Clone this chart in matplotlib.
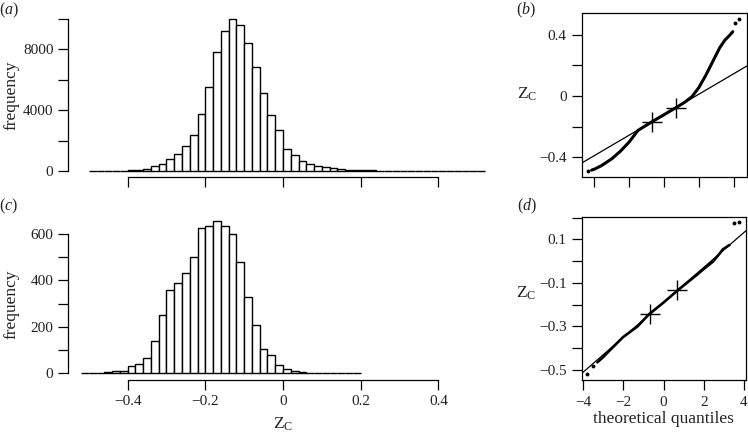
import numpy as np
import matplotlib
matplotlib.use('Agg')
import matplotlib.pyplot as plt

plt.rcParams['font.family'] = ['Liberation Serif', 'DejaVu Serif']
plt.rcParams['font.size'] = 11
plt.rcParams['mathtext.fontset'] = 'custom'
plt.rcParams['mathtext.rm'] = 'Liberation Serif'
plt.rcParams['mathtext.it'] = 'Liberation Serif:italic'
plt.rcParams['axes.linewidth'] = 0.9
plt.rcParams['text.color'] = '#222222'
plt.rcParams['xtick.labelcolor'] = '#222222'
plt.rcParams['ytick.labelcolor'] = '#222222'

# histogram (a): bins of width 0.02 starting at -0.50
bins_a_start = -0.50
counts_a = [2, 3, 5, 8, 20, 40, 90, 150, 300, 480, 790, 1120, 1620, 2390, 3770,
            5520, 7820, 9240, 10020, 9580, 8440, 6820, 5160, 3670, 2680, 1480,
            1020, 670, 450, 340, 240, 180, 130, 90, 60, 45, 35, 25, 20, 15, 12,
            10, 8, 6, 5, 4, 3, 2, 2, 1, 1]

# histogram (c): bins of width 0.02 starting at -0.52
bins_c_start = -0.52
counts_c = [1, 1, 2, 4, 11, 10, 30, 38, 65, 139, 251, 359, 391, 433, 499, 624,
            634, 656, 634, 598, 481, 330, 208, 103, 80, 36, 18, 9, 6, 3, 2, 1,
            1, 1, 1, 1]
bin_w = 0.02

hist_xticks = [-0.4, -0.2, 0, 0.2, 0.4]
hist_xlabels = ['\u22120.4', '\u22120.2', '0', '0.2', '0.4']

# normal QQ plot (b): points
qq_b_x = [-4.16, -4.0, -3.6, -3.0, -2.5, -2.0, -1.5, -0.674, 0.0, 0.674, 1.2,
          1.6, 2.0, 2.4, 2.8, 3.2, 3.5, 3.8, 3.95]
qq_b_y = [-0.484, -0.478, -0.455, -0.41, -0.36, -0.30, -0.225, -0.167, -0.122,
          -0.077, -0.040, -0.005, 0.055, 0.135, 0.225, 0.315, 0.365, 0.40, 0.42]
qq_b_out_x = [-4.35, 4.08, 4.33]
qq_b_out_y = [-0.489, 0.475, 0.503]
quart_b_y = [-0.167, -0.077]

# normal QQ plot (d)
qq_d_x = [-3.3, -3.0, -2.77, -2.02, -1.3, -0.73, 0.0, 0.73, 1.63, 2.0, 2.45,
          2.75, 2.95, 3.28]
qq_d_y = [-0.465, -0.44, -0.418, -0.349, -0.30, -0.244, -0.190, -0.132, -0.065,
          -0.036, -0.003, 0.03, 0.054, 0.074]
qq_d_out_x = [-3.82, -3.52, 3.48, 3.75]
qq_d_out_y = [-0.517, -0.482, 0.176, 0.181]
quart_d_y = [-0.243, -0.135]

quart_x = [-0.674, 0.674]

W, H = 748, 436
fig = plt.figure(figsize=(W / 100, H / 100), dpi=100)


def px_axes(left, top, right, bottom):
    # pixel box -> figure fraction
    return fig.add_axes([left / W, 1 - bottom / H, (right - left) / W, (bottom - top) / H])


tick_len = 7.2
lab_size = 12.5

# (a) histogram
ax_a = px_axes(68.3, 12, 490, 176.7)
edges_a = bins_a_start + bin_w * np.arange(len(counts_a))
ax_a.bar(edges_a, counts_a, width=bin_w, align='edge', facecolor='white',
         edgecolor='black', linewidth=1.0)
ax_a.set_xlim(-0.5527, 0.5328)
ax_a.set_ylim(-375, 10460)
ax_a.spines['top'].set_visible(False)
ax_a.spines['right'].set_visible(False)
ax_a.spines['left'].set_bounds(0, 10000)
ax_a.spines['bottom'].set_bounds(-0.4, 0.4)
ax_a.set_yticks([0, 2000, 4000, 6000, 8000, 10000])
ax_a.set_yticklabels(['0', '', '4000', '', '8000', ''])
ax_a.set_xticks(hist_xticks)
ax_a.set_xticklabels([])
ax_a.tick_params(direction='out', length=tick_len, width=0.9)

# (c) histogram
ax_c = px_axes(68.3, 215, 490, 379.5)
edges_c = bins_c_start + bin_w * np.arange(len(counts_c))
ax_c.bar(edges_c, counts_c, width=bin_w, align='edge', facecolor='white',
         edgecolor='black', linewidth=1.0)
ax_c.set_xlim(-0.5527, 0.5328)
ax_c.set_ylim(-26.7, 682)
ax_c.spines['top'].set_visible(False)
ax_c.spines['right'].set_visible(False)
ax_c.spines['left'].set_bounds(0, 600)
ax_c.spines['bottom'].set_bounds(-0.4, 0.4)
ax_c.set_yticks([0, 100, 200, 300, 400, 500, 600])
ax_c.set_yticklabels(['0', '', '200', '', '400', '', '600'])
ax_c.set_xticks(hist_xticks)
ax_c.set_xticklabels(hist_xlabels)
ax_c.tick_params(direction='out', length=tick_len, width=0.9)
ax_c.tick_params(axis='x', pad=4)

# (b) QQ plot
ax_b = px_axes(581.7, 12.7, 746.5, 176.7)
ax_b.plot(qq_b_x, qq_b_y, color='black', lw=2.2, solid_capstyle='round')
ax_b.plot(qq_b_out_x, qq_b_out_y, 'o', color='black', ms=1.8)
ax_b.axline((quart_x[0], quart_b_y[0]), (quart_x[1], quart_b_y[1]), color='black', lw=0.9)
ax_b.plot(quart_x, quart_b_y, '+', color='black', ms=15, mew=1.0)
ax_b.set_xlim(-4.73, 4.74)
ax_b.set_ylim(-0.527, 0.544)
ax_b.set_xticks([-4, -2, 0, 2, 4])
ax_b.set_xticklabels([])
ax_b.set_yticks([-0.4, -0.2, 0, 0.2, 0.4])
ax_b.set_yticklabels(['\u22120.4', '', '0', '', '0.4'])
ax_b.tick_params(direction='out', length=tick_len, width=0.9)

# (d) QQ plot
ax_d = px_axes(581.7, 217.3, 746, 380)
ax_d.plot(qq_d_x, qq_d_y, color='black', lw=1.9, solid_capstyle='round')
ax_d.plot(qq_d_out_x, qq_d_out_y, 'o', color='black', ms=1.8)
ax_d.axline((quart_x[0], quart_d_y[0]), (quart_x[1], quart_d_y[1]), color='black', lw=0.9)
ax_d.plot(quart_x, quart_d_y, '+', color='black', ms=15, mew=1.0)
ax_d.set_xlim(-4.08, 4.10)
ax_d.set_ylim(-0.546, 0.201)
ax_d.set_xticks([-4, -2, 0, 2, 4])
ax_d.set_xticklabels(['\u22124', '\u22122', '0', '2', '4'])
ax_d.set_yticks([0.2, 0.1, 0, -0.1, -0.2, -0.3, -0.4, -0.5])
ax_d.set_yticklabels(['', '0.1', '', '\u22120.1', '', '\u22120.3', '', '\u22120.5'])
ax_d.tick_params(direction='out', length=tick_len, width=0.9)
ax_d.tick_params(axis='x', pad=4)


def ftext(x, y, s, **kw):
    fig.text(x / W, 1 - y / H, s, ha='center', va='center', **kw)


ftext(9, 10.5, r'$(\mathit{a})$', fontsize=11.5)
ftext(526, 10.5, r'$(\mathit{b})$', fontsize=11.5)
ftext(9, 206, r'$(\mathit{c})$', fontsize=11.5)
ftext(527, 206, r'$(\mathit{d})$', fontsize=11.5)
ftext(12, 95, 'frequency', rotation=90, fontsize=lab_size)
ftext(12, 304, 'frequency', rotation=90, fontsize=lab_size)
ftext(527, 94, r'$\mathrm{Z}_\mathrm{C}$', fontsize=lab_size)
ftext(526, 293, r'$\mathrm{Z}_\mathrm{C}$', fontsize=lab_size)
ftext(283, 424, r'$\mathrm{Z}_\mathrm{C}$', fontsize=lab_size)
ftext(663, 419, 'theoretical quantiles', fontsize=lab_size)

fig.savefig('out.png', dpi=100)
